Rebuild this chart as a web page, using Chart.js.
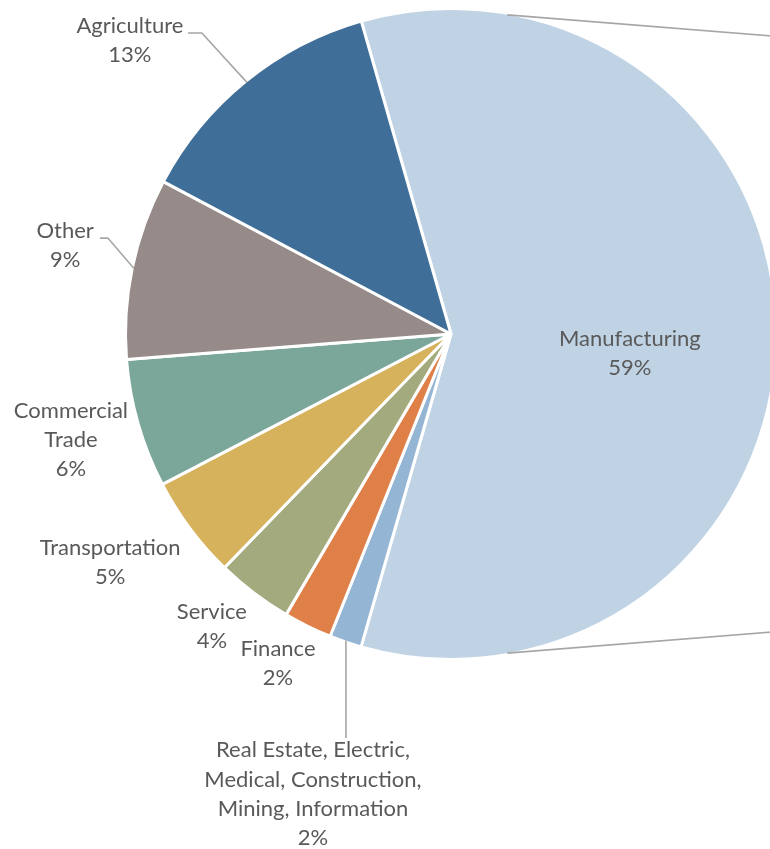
<!DOCTYPE html>
<html>
<head>
<meta charset="utf-8">
<script src="https://cdn.jsdelivr.net/npm/chart.js@4.4.1/dist/chart.umd.min.js"></script>
<style>
  html, body { margin: 0; padding: 0; background: #fff; overflow: hidden; }
  #wrap { position: relative; width: 900px; height: 849px; }
</style>
</head>
<body>
<div id="wrap"><canvas id="pieChart"></canvas></div>
<script>
// --- Data ---
const sectors = [
  'Manufacturing',
  ['Real Estate, Electric,', 'Medical, Construction,', 'Mining, Information'],
  'Finance',
  'Service',
  'Transportation',
  ['Commercial', 'Trade'],
  'Other',
  'Agriculture'
];
const shares = [58.9, 1.6, 2.4, 3.8, 5.1, 6.4, 9.0, 12.8];
const sliceColors = ['#C0D3E5', '#95B5D4', '#DF8049', '#A3AA7E', '#D7B25D', '#7BA69A', '#968B89', '#3F6F98'];

// --- Label layout (in units of the pie radius, from its centre) ---
const labelPos = [
  [0.552, 0.059],
  [-0.426, 1.420],
  [-0.534, 1.017],
  [-0.738, 0.903],
  [-1.052, 0.704],
  [-1.173, 0.327],
  [-1.191, -0.273],
  [-0.991, -0.906]
];
// leader line points after the slice edge; null x = straight down
const leaders = [
  null,
  [[null, 1.247]],
  null, null, null, null,
  [[-1.059, -0.296], [-1.083, -0.296]],
  [[-0.769, -0.929], [-0.812, -0.929]]
];
// pie-of-pie connectors running off to the right
const connectors = [
  { angle: -80, end: [1.3, -0.895] },
  { angle: 80, end: [1.3, 0.895] }
];

const BORDER = 3;
const FONT = '22px Lato, "Open Sans", sans-serif';
const LINE_H = 29.3;

const sliceLabels = {
  id: 'sliceLabels',
  afterDatasetsDraw(chart) {
    const ctx = chart.ctx;
    const meta = chart.getDatasetMeta(0);
    const total = shares.reduce((a, b) => a + b, 0);
    const first = meta.data[0];
    const cx = first.x, cy = first.y;
    const r = first.outerRadius - BORDER / 2;

    ctx.save();
    ctx.strokeStyle = '#A6A6A6';
    ctx.lineWidth = 1.6;

    connectors.forEach(c => {
      const a = c.angle * Math.PI / 180;
      ctx.beginPath();
      ctx.moveTo(cx + Math.cos(a) * r, cy + Math.sin(a) * r);
      ctx.lineTo(cx + c.end[0] * r, cy + c.end[1] * r);
      ctx.stroke();
    });

    meta.data.forEach((arc, i) => {
      const mid = (arc.startAngle + arc.endAngle) / 2;
      const sx = cx + Math.cos(mid) * r;
      const sy = cy + Math.sin(mid) * r;
      if (leaders[i]) {
        ctx.beginPath();
        ctx.moveTo(sx, sy);
        leaders[i].forEach(p => {
          const px = p[0] === null ? sx : cx + p[0] * r;
          ctx.lineTo(px, cy + p[1] * r);
        });
        ctx.stroke();
      }

      const lines = [].concat(sectors[i], Math.round(shares[i] / total * 100) + '%');
      const lx = cx + labelPos[i][0] * r;
      const ly = cy + labelPos[i][1] * r - (lines.length - 1) * LINE_H / 2;
      ctx.fillStyle = '#595959';
      ctx.font = FONT;
      ctx.textAlign = 'center';
      ctx.textBaseline = 'middle';
      lines.forEach((t, k) => ctx.fillText(t, lx, ly + k * LINE_H));
    });
    ctx.restore();
  }
};

function renderChart() {
  const ctx = document.getElementById('pieChart').getContext('2d');
  new Chart(ctx, {
    type: 'pie',
    data: {
      labels: sectors,
      datasets: [{
        data: shares,
        backgroundColor: sliceColors,
        borderColor: '#ffffff',
        borderWidth: BORDER,
        hoverOffset: 0
      }]
    },
    options: {
      responsive: true,
      maintainAspectRatio: false,
      animation: false,
      rotation: -16,
      layout: { padding: { left: 124, top: 7, right: 122, bottom: 188 } },
      plugins: {
        legend: { display: false },
        tooltip: { enabled: false }
      }
    },
    plugins: [sliceLabels]
  });
}

document.addEventListener('DOMContentLoaded', renderChart);
</script>
</body>
</html>
